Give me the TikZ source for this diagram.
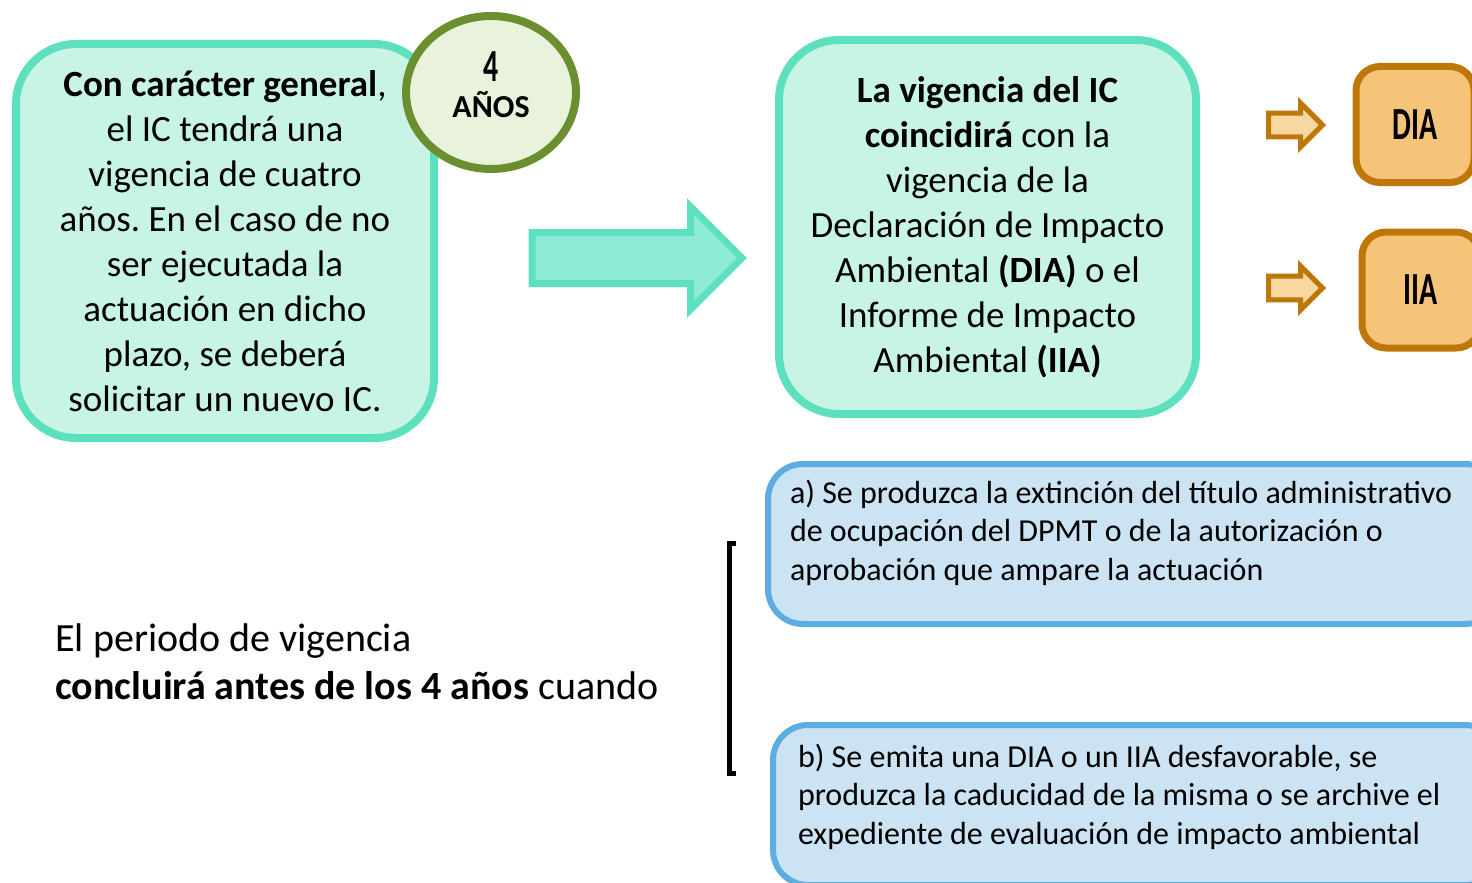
\documentclass[tikz,border=0pt]{standalone}
\usepackage{fontspec}
\setmainfont{Carlito}
\newfontfamily\condfont[FakeStretch=0.65]{Carlito}
\usetikzlibrary{positioning,shapes.geometric,shapes.arrows}
\frenchspacing
\definecolor{tealline}{HTML}{5DE0BE}
\definecolor{tealfill}{HTML}{C8F4E6}
\definecolor{tealarrow}{HTML}{8FEBD3}
\definecolor{oliveline}{HTML}{6B8E2F}
\definecolor{olivefill}{HTML}{E9F2DA}
\definecolor{goldline}{HTML}{BE7709}
\definecolor{goldfill}{HTML}{F5C478}
\definecolor{goldarrow}{HTML}{F8D8A0}
\definecolor{blueline}{HTML}{5DADE2}
\definecolor{bluefill}{HTML}{CCE3F4}
\begin{document}
\begin{tikzpicture}[x=0.5pt,y=-0.5pt,
	tealbox/.style={
		draw=tealline, fill=tealfill,
		line width=4pt, rounded corners=30pt,
		align=center,
		font=\fontsize{18.5pt}{22.5pt}\selectfont},
	yearsbubble/.style={
		shape=ellipse, draw=oliveline, fill=olivefill,
		line width=4pt, align=center,
		minimum width=85pt, minimum height=76.5pt,
		text depth=8pt,
		font=\fontsize{16pt}{18pt}\selectfont\bfseries},
	goldbox/.style={
		draw=goldline, fill=goldfill,
		line width=3.5pt, rounded corners=12pt,
		minimum width=59pt, minimum height=58pt,
		font=\condfont\bfseries\fontsize{23pt}{23pt}\selectfont},
	goldarrow/.style={
		shape=single arrow, draw=goldline, fill=goldarrow,
		line width=2.5pt, inner xsep=0pt, inner ysep=4.5pt, anchor=tail,
		minimum height=27pt, minimum width=22pt,
		single arrow head extend=5pt,
		single arrow tip angle=90, single arrow head indent=0pt},
	bluebox/.style={
		draw=blueline, fill=bluefill,
		line width=3pt, rounded corners=17.5pt},
	bluetext/.style={
		inner sep=0pt, outer sep=0pt, align=left,
		font=\fontsize{16pt}{19.25pt}\selectfont}]
	\useasboundingbox (0,0) rectangle (1472,883);
	\clip (0,0) rectangle (1472,883);
	% top row
	\node [tealbox, minimum width=209pt, minimum height=197pt] (general) at (225,241)
		{\textbf{Con carácter general},\\ el IC tendrá una\\ vigencia de cuatro\\ años. En el caso de no\\ ser ejecutada la\\ actuación en dicho\\ plazo, se deberá\\ solicitar un nuevo IC.};
	\node [yearsbubble] (years) at (491,92.5)
		{{\condfont\fontsize{23pt}{18pt}\selectfont 4}\\ AÑOS};
	\node [shape=single arrow, draw=tealline, fill=tealarrow, line width=3.5pt,
		inner xsep=0pt, inner ysep=11pt, anchor=tail,
		minimum height=105pt, minimum width=50pt,
		single arrow head extend=13pt, single arrow tip angle=90,
		single arrow head indent=0pt] (bigarrow) at (528.5,258) {};
	\node [tealbox, minimum width=208.5pt, minimum height=187pt] (coincide) at (987.5,227)
		{\textbf{La vigencia del IC}\\ \textbf{coincidirá} con la\\ vigencia de la\\ Declaración de Impacto\\ Ambiental \textbf{(DIA)} o el\\ Informe de Impacto\\ Ambiental \textbf{(IIA)}};
	\node [goldarrow] (toDIA) at (1266,125) {};
	\node [goldarrow] (toIIA) at (1266,288) {};
	\node [goldbox] (dia) at (1415,124.5) {DIA};
	\node [goldbox] (iia) at (1421,290) {IIA};
	% bottom row
	\node [anchor=west, align=left, inner sep=0pt,
		font=\fontsize{20pt}{24pt}\selectfont] (ends) at (55,662)
		{El periodo de vigencia\\ \textbf{concluirá antes de los 4 años} cuando};
	\coordinate (brtop) at (736,543);
	\coordinate (brbot) at (736,773);
	\draw [line width=2.5pt] (brtop) -- ++(-7,0) |- (brbot);
	\node [bluebox, minimum width=366pt, minimum height=80pt] (casea) at (1134,544) {};
	\node [bluetext, below right=9.5pt and 12.5pt of casea.north west] (casetexta)
		{a) Se produzca la extinción del título administrativo\\ de ocupación del DPMT o de la autorización o\\ aprobación que ampare la actuación};
	\node [bluebox, minimum width=363.5pt, minimum height=80pt] (caseb) at (1136.5,805) {};
	\node [bluetext, below right=11pt and 14pt of caseb.north west] (casetextb)
		{b) Se emita una DIA o un IIA desfavorable, se\\ produzca la caducidad de la misma o se archive el\\ expediente de evaluación de impacto ambiental};
\end{tikzpicture}
\end{document}
